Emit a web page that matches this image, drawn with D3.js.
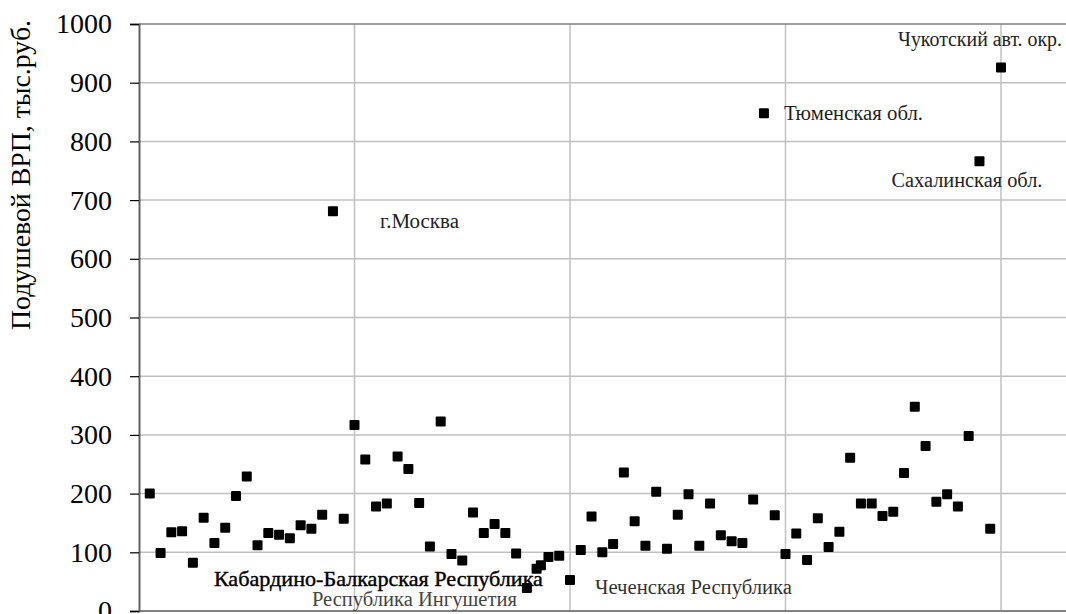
<!DOCTYPE html>
<html>
<head>
<meta charset="utf-8">
<script src="https://cdn.jsdelivr.net/npm/d3@7"></script>
<style>
  body { margin: 0; background: #fff; }
  svg { display: block; }
</style>
</head>
<body>
<div id="chart"></div>
<script>
// Номер региона (по оси X) и подушевой ВРП, тыс. руб.
const regionNo = [1, 2, 3, 4, 5, 6, 7, 8, 9, 10, 11, 12, 13, 14, 15, 16, 17, 18, 19, 20,
  21, 22, 23, 24, 25, 26, 27, 28, 29, 30, 31, 32, 33, 34, 35, 36, 36.9, 37.3, 38, 39, 40,
  41, 42, 43, 44, 45, 46, 47, 48, 49, 50, 51, 52, 53, 54, 55, 56, 57, 58, 59, 60,
  61, 62, 63, 64, 65, 66, 67, 68, 69, 70, 71, 72, 73, 74, 75, 76, 77, 78, 79, 80];
const grpPerCapita = [200, 99, 134, 136, 82, 159, 116, 142, 196, 229, 112, 133, 130, 124, 146, 140, 164, 681, 157, 317,
  258, 178, 183, 263, 242, 184, 110, 323, 97, 86, 168, 133, 148, 133, 98, 39, 72, 78, 92, 94, 53,
  104, 161, 100, 114, 236, 153, 111, 203, 106, 164, 199, 111, 183, 129, 119, 116, 190, 848, 163, 97,
  132, 87, 158, 109, 135, 261, 183, 183, 162, 169, 235, 348, 281, 186, 199, 178, 298, 766, 140, 926];

// Подписи выделенных регионов
const labelNames = ["г.Москва", "Тюменская обл.", "Чукотский авт. окр.", "Сахалинская обл.",
  "Кабардино-Балкарская Республика", "Республика Ингушетия", "Чеченская Республика"];
const labelX = [18, 58, 80, 78, 37.3, 36, 40];
const labelY = [681, 848, 926, 766, 72, 39, 53];

const yTicks = [0, 100, 200, 300, 400, 500, 600, 700, 800, 900, 1000];
const xGrid = [20, 40, 60, 80, 100];

const serif = "'Times New Roman', 'Liberation Serif', serif";
const width = 1066, height = 614;
const svg = d3.select("#chart").append("svg")
  .attr("width", width)
  .attr("height", height);

const x = d3.scaleLinear().domain([0, 100]).range([139, 1216.5]);
const y = d3.scaleLinear().domain([0, 1000]).range([611, 24]);

// сетка
svg.append("g").selectAll("line")
  .data(yTicks.filter(d => d > 0 && d < 1000))
  .join("line")
  .attr("x1", x(0)).attr("x2", x(100))
  .attr("y1", d => y(d)).attr("y2", d => y(d))
  .attr("stroke", "#c0c0c0").attr("stroke-width", 1.5);

svg.append("g").selectAll("line")
  .data(xGrid)
  .join("line")
  .attr("x1", d => x(d)).attr("x2", d => x(d))
  .attr("y1", y(0)).attr("y2", y(1000))
  .attr("stroke", "#c0c0c0").attr("stroke-width", 1.5);

// рамка области построения
svg.append("line")
  .attr("x1", x(0)).attr("x2", width)
  .attr("y1", y(1000)).attr("y2", y(1000))
  .attr("stroke", "#808080").attr("stroke-width", 1.5);
svg.append("line")
  .attr("x1", x(0)).attr("x2", width)
  .attr("y1", y(0)).attr("y2", y(0))
  .attr("stroke", "#808080").attr("stroke-width", 2);

// ось Y
const yAxis = d3.axisLeft(y).tickValues(yTicks).tickFormat(d3.format("d"))
  .tickSize(9).tickPadding(18);
const gy = svg.append("g")
  .attr("transform", `translate(${x(0)},0)`)
  .call(yAxis);
gy.select(".domain").attr("stroke", "#606060").attr("stroke-width", 2);
gy.selectAll(".tick line").attr("stroke", "#000").attr("stroke-width", 1.2);
gy.selectAll(".tick text")
  .style("font-family", serif)
  .style("font-size", "28px")
  .attr("fill", "#000");

svg.append("text")
  .attr("transform", "translate(30,175) rotate(-90)")
  .attr("text-anchor", "middle")
  .style("font-family", serif)
  .style("font-size", "27px")
  .attr("textLength", 310)
  .attr("lengthAdjust", "spacingAndGlyphs")
  .attr("fill", "#000")
  .text("Подушевой ВРП, тыс.руб.");

// точки
const s = 10;
svg.append("g").selectAll("rect")
  .data(regionNo.map((d, i) => [d, grpPerCapita[i]]))
  .join("rect")
  .attr("x", d => x(d[0]) - s / 2)
  .attr("y", d => y(d[1]) - s / 2)
  .attr("width", s).attr("height", s)
  .attr("rx", 1)
  .attr("fill", "#000");

// подписи
const labelDx = [47, 20, 61, 63, 2, -10, 25];
const labelDy = [17, 7, -21, 26, 17, 18, 14];
const labelLen = [79, 139, 164, 151, 329, 205, 197];
const labelAnchor = ["start", "start", "end", "end", "end", "end", "start"];
const labelColor = ["#222", "#222", "#222", "#222", "#000", "#444", "#333"];

svg.append("g").selectAll("text")
  .data(labelNames)
  .join("text")
  .attr("x", (d, i) => x(labelX[i]) + labelDx[i])
  .attr("y", (d, i) => y(labelY[i]) + labelDy[i])
  .attr("text-anchor", (d, i) => labelAnchor[i])
  .style("font-family", serif)
  .style("font-size", (d, i) => i === 4 ? "21px" : "20.5px")
  .attr("stroke", (d, i) => i === 4 ? "#000" : "none")
  .attr("stroke-width", 0.4)
  .attr("textLength", (d, i) => labelLen[i])
  .attr("lengthAdjust", "spacingAndGlyphs")
  .attr("fill", (d, i) => labelColor[i])
  .text(d => d);
</script>
</body>
</html>
